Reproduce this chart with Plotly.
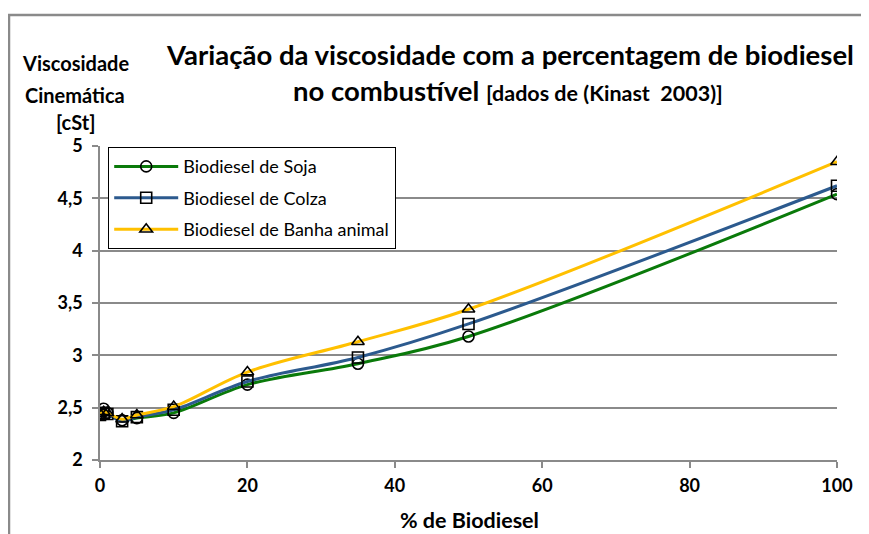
import plotly.graph_objects as go

# ---- data ----
pct_biodiesel = [0, 0.5, 1, 3, 5, 10, 20, 35, 50, 100]
visc_soja = [2.44, 2.49, 2.45, 2.38, 2.40, 2.45, 2.72, 2.92, 3.18, 4.54]
visc_colza = [2.43, 2.45, 2.44, 2.37, 2.41, 2.48, 2.75, 2.98, 3.30, 4.62]
visc_banha = [2.44, 2.46, 2.45, 2.39, 2.43, 2.51, 2.84, 3.13, 3.44, 4.85]

series_names = ["Biodiesel de Soja", "Biodiesel de Colza", "Biodiesel de Banha animal"]
series_colors = ["#0a7a0a", "#2c5a8e", "#ffc000"]
series_symbols = ["circle-open", "square-open", "triangle-up-open"]

y_tickvals = [2, 2.5, 3, 3.5, 4, 4.5, 5]
x_tickvals = [0, 20, 40, 60, 80, 100]

# page (screenshot) coordinates of the plot area; the page body has an 8px margin
OFF = 8
W, H = 869 - OFF, 534 - OFF
L, R, T, B = 100, 837, 146, 460
FONT = "Lato"


def px(x):
    return (x - L) / (R - L)


def py(y):
    return (B - y) / (B - T)


fig = go.Figure()
for name, vals, col, sym in zip(series_names, [visc_soja, visc_colza, visc_banha],
                                series_colors, series_symbols):
    fig.add_trace(go.Scatter(
        x=pct_biodiesel, y=vals, name=name, legendgroup=name,
        mode="lines+markers",
        line=dict(color=col, width=3, shape="spline", smoothing=1.0),
        marker=dict(symbol=sym, size=11, color="black", line=dict(color="black", width=1.6)),
    ))

ann = []
title_font = dict(family=FONT, size=27.5, color="black")
ann.append(dict(x=px(510), y=py(55), xref="paper", yref="paper", xanchor="center", yanchor="middle",
                text="<b>Variação da viscosidade com a percentagem de biodiesel</b>",
                showarrow=False, font=title_font))
ann.append(dict(x=px(508), y=py(90), xref="paper", yref="paper", xanchor="center", yanchor="middle",
                text="<b>no combustível <span style='font-size:21.5px'>[dados de (Kinast  2003)]</span></b>",
                showarrow=False, font=title_font))
ylab_font = dict(family=FONT, size=20, color="black")
for txt, yy in [("Viscosidade", 63), ("Cinemática", 95), ("[cSt]", 122)]:
    ann.append(dict(x=px(75), y=py(yy), xref="paper", yref="paper", xanchor="center", yanchor="middle",
                    text="<b>" + txt + "</b>", showarrow=False, font=ylab_font))
ann.append(dict(x=px(469), y=py(520), xref="paper", yref="paper", xanchor="center", yanchor="middle",
                text="<b>% de Biodiesel</b>", showarrow=False,
                font=dict(family=FONT, size=21.5, color="black")))

fig.update_layout(
    width=W, height=H,
    margin=dict(l=L - OFF, r=W - (R - OFF), t=T - OFF, b=H - (B - OFF), pad=0),
    paper_bgcolor="white", plot_bgcolor="white",
    separators=",.",
    font=dict(family=FONT, color="black"),
    annotations=ann,
    showlegend=True,
    legend=dict(
        x=px(108), y=py(147), xanchor="left", yanchor="top",
        bordercolor="black", borderwidth=1.2, bgcolor="white",
        font=dict(family=FONT, size=18, color="black"),
        traceorder="grouped", tracegroupgap=5, itemwidth=64,
    ),
    shapes=[dict(type="rect", xref="paper", yref="paper",
                 x0=px(OFF + 1), x1=px(900), y0=py(600), y1=py(15),
                 line=dict(color="#8a8a8a", width=2.5), layer="below")],
    xaxis=dict(range=[0, 100], tickvals=x_tickvals, showgrid=False, zeroline=False,
               showline=True, linecolor="#8a8a8a", linewidth=1.5,
               ticks="outside", ticklen=6, tickcolor="#8a8a8a", tickwidth=1.5,
               tickfont=dict(family=FONT, size=18, color="black"), ticklabelstandoff=3),
    yaxis=dict(range=[2, 5], tickvals=y_tickvals, showgrid=True, gridcolor="#8a8a8a", gridwidth=1.5,
               zeroline=False, showline=True, linecolor="#8a8a8a", linewidth=1.5,
               ticks="outside", ticklen=6, tickcolor="#8a8a8a", tickwidth=1.5,
               tickfont=dict(family=FONT, size=18, color="black"), ticklabelstandoff=6),
)

# bold tick labels
fig.update_xaxes(ticktext=["<b>%d</b>" % v for v in x_tickvals])
fig.update_yaxes(ticktext=["<b>" + ("%g" % v).replace(".", ",") + "</b>" for v in y_tickvals])

fig.write_html("out.html")
